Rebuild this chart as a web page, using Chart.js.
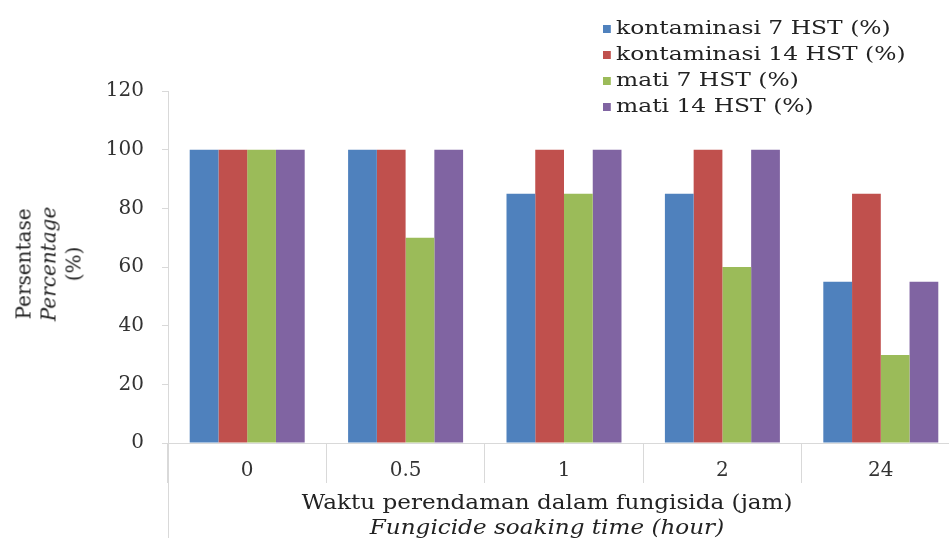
<!DOCTYPE html>
<html>
<head>
<meta charset="utf-8">
<script src="https://cdn.jsdelivr.net/npm/chart.js@4/dist/chart.umd.min.js"></script>
<style>
    html, body { margin: 0; padding: 0; background: #fff; overflow: hidden; width: 949px; height: 553px; }
    #wrap { position: relative; width: 975px; height: 553px; }
    #chart { position: absolute; left: 0; top: 0; }
    .ytitle {
        position: absolute; left: 49px; top: 264px;
        transform: translate(-50%, -50%) rotate(-90deg);
        text-align: center; font-family: 'DejaVu Serif'; font-size: 20px; line-height: 25px;
        color: #222; white-space: nowrap;
    }
    .xtitle {
        position: absolute; left: 547px; top: 490px; transform: translateX(-50%) scaleX(1.1);
        text-align: center; font-family: 'DejaVu Serif'; font-size: 21px; line-height: 25px;
        color: #222; white-space: nowrap;
    }
    #legend {
        position: absolute; left: 603px; top: 15px; font-family: 'DejaVu Serif'; font-size: 18px; color: #222;
        transform: scaleX(1.3); transform-origin: left top;
    }
    #legend div { height: 26px; line-height: 26px; white-space: nowrap; }
    #legend span { display: inline-block; width: 6px; height: 8px; margin-right: 4px; vertical-align: 1px; }
</style>
</head>
<body>
<div id="wrap">
    <canvas id="chart" width="975" height="553"></canvas>
    <div class="ytitle">Persentase<br><i>Percentage</i><br>(%)</div>
    <div class="xtitle">Waktu perendaman dalam fungisida (jam)<br><i>Fungicide soaking time (hour)</i></div>
    <div id="legend"></div>
</div>
<script>
// Data
const categories = ['0', '0.5', '1', '2', '24'];
const kontaminasi7 = [100, 100, 85, 85, 55];
const kontaminasi14 = [100, 100, 100, 100, 85];
const mati7 = [100, 70, 85, 60, 30];
const mati14 = [100, 100, 100, 100, 55];
const seriesNames = ['kontaminasi 7 HST (%)', 'kontaminasi 14 HST (%)', 'mati 7 HST (%)', 'mati 14 HST (%)'];
const seriesColors = ['#4F81BD', '#C0504D', '#9BBB59', '#8064A2'];

const font = { family: 'DejaVu Serif', size: 20 };

// left edge of the category axis runs further down
const axisDrop = {
    id: 'axisDrop',
    afterDraw(chart) {
        const { ctx, chartArea } = chart;
        ctx.save();
        ctx.strokeStyle = '#d9d9d9';
        ctx.lineWidth = 1;
        ctx.beginPath();
        ctx.moveTo(chartArea.left + 0.5, chartArea.bottom);
        ctx.lineTo(chartArea.left + 0.5, 538);
        ctx.stroke();
        ctx.restore();
    }
};

const ctx = document.getElementById('chart').getContext('2d');
const chart = new Chart(ctx, {
    type: 'bar',
    data: {
        labels: categories,
        datasets: [kontaminasi7, kontaminasi14, mati7, mati14].map((d, i) => ({
            label: seriesNames[i],
            data: d,
            backgroundColor: seriesColors[i],
            borderWidth: 0,
            barPercentage: 1,
            categoryPercentage: 0.726
        }))
    },
    options: {
        responsive: false,
        animation: false,
        layout: { padding: { top: 91, right: 15, bottom: 0, left: 0 } },
        plugins: { legend: { display: false }, tooltip: { enabled: false } },
        scales: {
            x: {
                offset: true,
                grid: { display: true, drawOnChartArea: false, offset: true, tickLength: 40, color: '#d9d9d9' },
                border: { color: '#d9d9d9' },
                ticks: { font: font, color: '#333', padding: -24 },
                afterFit(scale) { scale.height = 110; }
            },
            y: {
                min: 0, max: 120,
                grid: { drawOnChartArea: false, tickLength: 6, color: '#d9d9d9' },
                border: { color: '#d9d9d9' },
                ticks: { stepSize: 20, font: font, color: '#333', padding: 18 },
                afterFit(scale) { scale.width = 168; }
            }
        }
    },
    plugins: [axisDrop]
});

// HTML legend
const legend = document.getElementById('legend');
chart.data.datasets.forEach(ds => {
    const row = document.createElement('div');
    const box = document.createElement('span');
    box.style.background = ds.backgroundColor;
    row.appendChild(box);
    row.appendChild(document.createTextNode(ds.label));
    legend.appendChild(row);
});
</script>
</body>
</html>
